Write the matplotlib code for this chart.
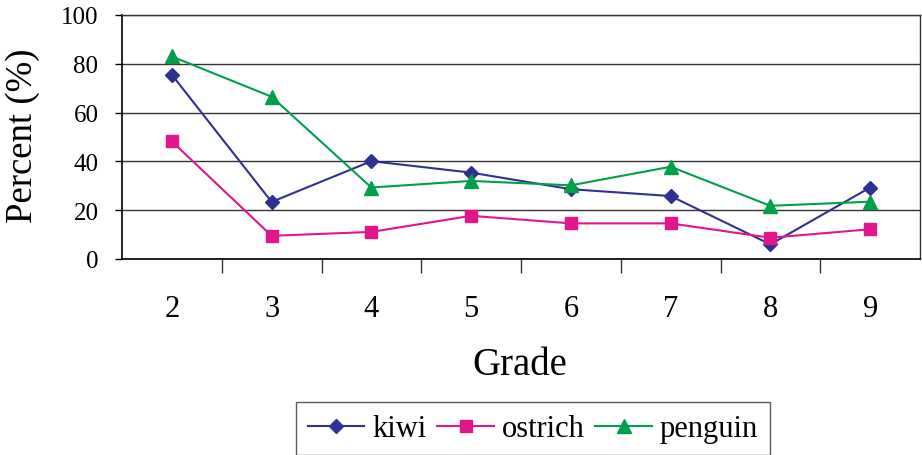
import matplotlib
matplotlib.use("Agg")
import matplotlib.pyplot as plt
from matplotlib.ticker import FixedLocator, NullFormatter

grades = [2, 3, 4, 5, 6, 7, 8, 9]
kiwi = [75.5, 23.4, 40.1, 35.4, 28.6, 25.8, 6.0, 29.3]
ostrich = [48.2, 9.5, 11.1, 17.7, 14.6, 14.6, 8.7, 12.2]
penguin = [83.0, 66.5, 29.3, 32.0, 30.2, 37.8, 21.8, 23.5]
y_ticks = [0, 20, 40, 60, 80, 100]

plt.rcParams['font.family'] = ['Liberation Serif', 'DejaVu Serif']

fig = plt.figure(figsize=(9.22, 4.56), dpi=100)
ax = fig.add_axes([122/922, 1-260/456, (920-122)/922, (260-16)/456])

ax.plot(grades, kiwi, color='#2E3192', marker='D', markersize=7.5, lw=1.5, label='kiwi', clip_on=False, zorder=3)
ax.plot(grades, ostrich, color='#E2168C', marker='s', markersize=8, lw=1.5, label='ostrich', clip_on=False, zorder=3)
ax.plot(grades, penguin, color='#00A04A', marker='^', markersize=9.5, lw=1.5, label='penguin', clip_on=False, zorder=3)

ax.set_xlim(1.5, 9.5)
ax.set_ylim(0, 100)
ax.set_yticks(y_ticks)
ax.set_xticks(grades)
ax.set_xticklabels([str(g) for g in grades])
ax.xaxis.set_minor_locator(FixedLocator([g + 0.5 for g in grades[:-1]]))
ax.xaxis.set_minor_formatter(NullFormatter())
ax.tick_params(axis='x', which='major', length=0, labelsize=22, pad=25)
ax.tick_params(axis='x', which='minor', length=10, width=1, color='#333333', direction='out')
ax.tick_params(axis='y', which='major', length=5, width=1, labelsize=18, direction='out', pad=12)

ax.yaxis.grid(True, color='#333333', lw=1)
ax.set_axisbelow(True)
for s in ['top', 'right']:
    ax.spines[s].set_color('#333333')
    ax.spines[s].set_linewidth(1)
ax.spines['left'].set_linewidth(1.2)
ax.spines['bottom'].set_linewidth(1.2)

ax.set_ylabel('Percent (%)', fontsize=26.5)
ax.yaxis.set_label_coords((40-122)/798, 0.51)
ax.set_xlabel('Grade', fontsize=28)
ax.xaxis.set_label_coords((520-122)/798, (260-347)/244)

leg = fig.legend(loc='upper center', bbox_to_anchor=(533/922, 1-403/456), ncol=3,
                 fontsize=22, frameon=True, fancybox=False, edgecolor='#333333',
                 handlelength=1.85, handletextpad=0.26, columnspacing=0.35,
                 borderpad=0.4, borderaxespad=0)
leg.get_frame().set_linewidth(1)

fig.savefig('out.png', dpi=100)
